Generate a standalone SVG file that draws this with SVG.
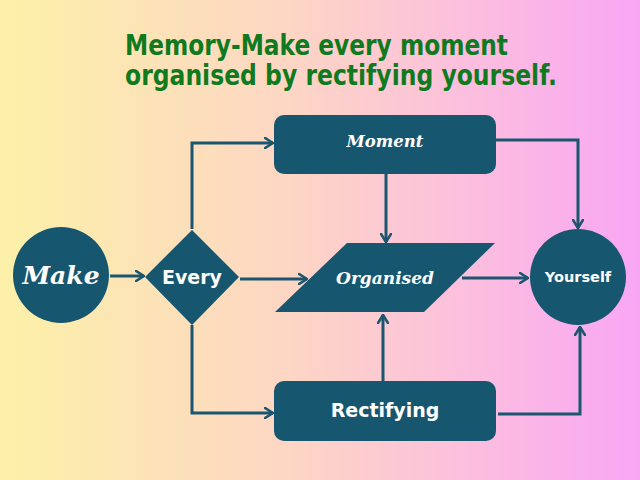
<svg xmlns="http://www.w3.org/2000/svg" width="640" height="480" viewBox="0 0 640 480">
  <defs>
    <linearGradient id="bg" x1="0" y1="0" x2="1" y2="0">
      <stop offset="0" stop-color="#fcf1a8"/>
      <stop offset="0.45" stop-color="#fdd6c4"/>
      <stop offset="0.75" stop-color="#fcbde0"/>
      <stop offset="1" stop-color="#f8a6f4"/>
    </linearGradient>
    <marker id="arr" viewBox="0 0 10 12" refX="9" refY="6" markerWidth="10" markerHeight="12" markerUnits="userSpaceOnUse" orient="auto">
      <path d="M1,1 L9,6 L1,11" fill="none" stroke="#1a566f" stroke-width="2.6" stroke-linecap="round" stroke-linejoin="round"/>
    </marker>
    <style>
      .node { fill: #17566f; }
      .conn { fill: none; stroke: #1a566f; stroke-width: 3; stroke-linejoin: miter; }
      .serif { font-family: "DejaVu Serif", "Liberation Serif", serif; font-weight: bold; font-style: italic; fill: #ffffff; text-anchor: middle; }
      .sans { font-family: "DejaVu Sans", "Liberation Sans", sans-serif; font-weight: bold; fill: #ffffff; text-anchor: middle; }
      .title { font-family: "DejaVu Sans", "Liberation Sans", sans-serif; font-weight: bold; fill: #107a1e; font-size: 28px; }
    </style>
  </defs>
  <rect x="0" y="0" width="640" height="480" fill="url(#bg)"/>

  <g id="title">
    <text class="title" x="125" y="55" textLength="383" lengthAdjust="spacingAndGlyphs">Memory-Make every moment</text>
    <text class="title" x="125" y="85" textLength="432" lengthAdjust="spacingAndGlyphs">organised by rectifying yourself.</text>
  </g>

  <g id="connectors">
    <line class="conn" x1="110" y1="276" x2="144" y2="276" marker-end="url(#arr)"/>
    <polyline class="conn" points="192,229 192,143 273,143" marker-end="url(#arr)"/>
    <polyline class="conn" points="192,325 192,413 273,413" marker-end="url(#arr)"/>
    <line class="conn" x1="240" y1="279" x2="307" y2="279" marker-end="url(#arr)"/>
    <line class="conn" x1="386" y1="174" x2="386" y2="242" marker-end="url(#arr)"/>
    <line class="conn" x1="383" y1="381" x2="383" y2="315" marker-end="url(#arr)"/>
    <line class="conn" x1="462" y1="278" x2="528" y2="278" marker-end="url(#arr)"/>
    <polyline class="conn" points="496,140 578,140 578,228" marker-end="url(#arr)"/>
    <polyline class="conn" points="498,414 580,414 580,327" marker-end="url(#arr)"/>
  </g>

  <g id="make">
    <circle class="node" cx="61" cy="275" r="48"/>
    <text class="serif" x="61" y="284" font-size="25">Make</text>
  </g>

  <g id="every">
    <polygon class="node" points="192,230 239,277 192,325 145,277"/>
    <text class="sans" x="192" y="284" font-size="19">Every</text>
  </g>

  <g id="moment">
    <rect class="node" x="274" y="115" width="222" height="59" rx="10"/>
    <text class="serif" x="385" y="147" font-size="16.5">Moment</text>
  </g>

  <g id="organised">
    <polygon class="node" points="347,243 495,243 424,312 275,312"/>
    <text class="serif" x="385" y="284" font-size="17">Organised</text>
  </g>

  <g id="yourself">
    <circle class="node" cx="578" cy="277" r="48"/>
    <text class="sans" x="578" y="282" font-size="14.5">Yourself</text>
  </g>

  <g id="rectifying">
    <rect class="node" x="274" y="381" width="222" height="60" rx="10"/>
    <text class="sans" x="385" y="417" font-size="19">Rectifying</text>
  </g>
</svg>
